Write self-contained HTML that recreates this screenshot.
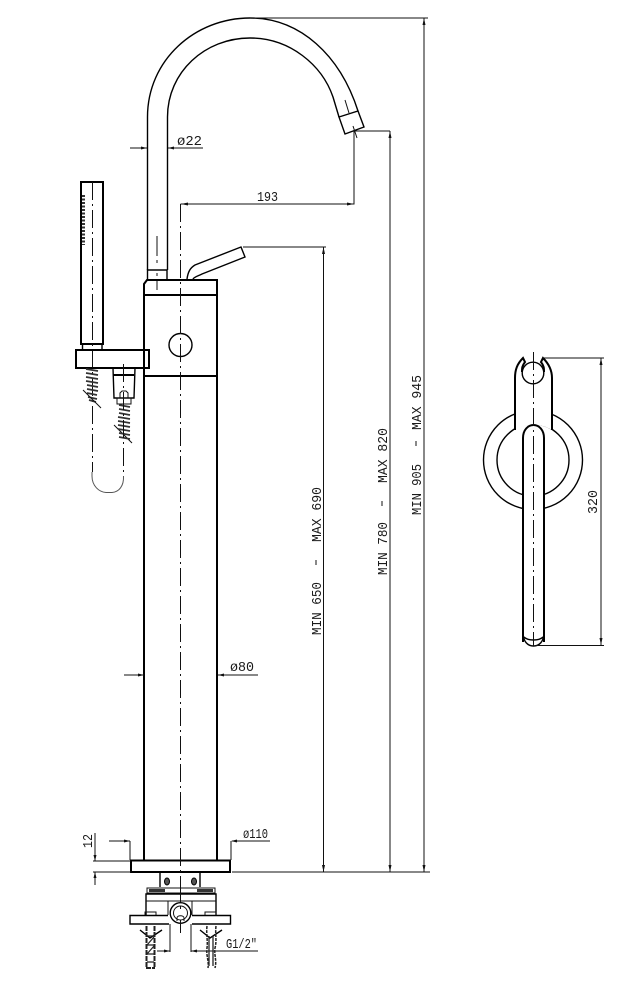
<!DOCTYPE html>
<html><head><meta charset="utf-8"><style>
html,body{margin:0;padding:0;background:#fff}
svg{display:block}
text{font-family:"Liberation Mono","DejaVu Sans Mono",monospace;font-size:14px;fill:#1a1a1a}
.t{stroke:#000;stroke-width:2;fill:none}
.m{stroke:#000;stroke-width:1.4;fill:none}
.d{stroke:#111;stroke-width:1;fill:none}
.c{stroke:#111;stroke-width:1;fill:none;stroke-dasharray:18 4 2 4}
.s{stroke:#333;stroke-width:1.7;fill:none}
.a{fill:#111;stroke:none}
</style></head><body>
<svg width="620" height="981" viewBox="0 0 620 981" xmlns="http://www.w3.org/2000/svg">
<!-- spout -->
<path class="m" d="M147.5 270V117C147.500 60 195 18 250 18C300 18 340 55 358 111"/>
<path class="m" d="M167.500 270V117C167.500 72 205 38 250 38C290 38 322 65 333 97L339 117"/>
<path class="m" d="M339 117L358 111L364 127L345 134Z"/>
<path class="d" d="M345 100L349 113M353 126L357 138"/>
<path class="m" d="M147.500 280V270H167V280"/>
<path class="d" d="M157 236V256M157 260V263M157 273V276M157 280V290"/>
<!-- body -->
<path class="t" d="M144 860V284L147 280H217V860"/>
<path class="t" d="M144 295H217M144 376H217"/>
<path class="t" d="M131 860.500H230V872H131Z"/>
<circle class="m" cx="180.500" cy="345" r="11.500"/>
<path class="c" d="M180.500 204V892"/>
<!-- lever -->
<path class="m" d="M187 279C188 272 190 268 195 265L241 247L245 257L202 274C198 276 194 277 193 279"/>
<!-- hand shower -->
<path class="t" d="M81 344V182H103V344Z"/>
<path class="m" d="M82.500 344V350M102 344V350"/>
<path d="M83.500 195V245" stroke="#333" stroke-width="3" stroke-dasharray="2 1.500" fill="none"/>
<path class="c" d="M92.500 182V472"/>
<rect class="t" x="76" y="350" width="73" height="18"/>
<!-- hose -->
<path class="s" d="M86 369L98 371M86 373L98 375M86 377L98 379M86 381L98 383M87 385L98 387M87 389L98 391M87 393L97 395M88 397L97 399M89 400L96 402"/>
<path class="d" d="M83 390L101 408M114 425L132 443"/>
<path class="m" d="M113 368L114 398H134L135 368"/>
<path class="t" d="M113 375H134"/>
<path class="d" d="M120 398V393L122 391H126L128 393V398"/>
<rect class="d" x="117" y="398" width="14" height="6"/>
<path class="s" d="M119 405L130 407M119 409L130 411M119 413L130 415M118 417L130 419M118 421L130 423M118 425L130 427M118 429L130 431M119 433L130 435M119 437L130 439"/>
<path class="c" d="M123.500 364V476"/>
<path d="M92 472V476C92 486 99 492 106 492.500H112C119 492 124 486 123.500 476" stroke="#555" stroke-width="1" fill="none"/>
<!-- dimensions: Ø22 -->
<path class="d" d="M130 148H147M168 148H203"/>
<path class="a" d="M147 148l-6-1.500v3zM168 148l6-1.500v3z"/>
<text x="177" y="145" textLength="25" lengthAdjust="spacingAndGlyphs">ø22</text>
<!-- 193 -->
<path class="d" d="M180.500 204H354V131H390"/>
<path class="a" d="M181 204l7-1.500v3zM354 204l-7-1.500v3z"/>
<text x="257" y="201" textLength="21" lengthAdjust="spacingAndGlyphs">193</text>
<!-- verticals -->
<path class="d" d="M243 247H326M323.500 247V872"/>
<path class="d" d="M390 131V872"/>
<path class="d" d="M250 18H428M424 18V872"/>
<path class="d" d="M232 872H430"/>
<path class="a" d="M323.500 247l-1.500 7h3zM323.500 872l-1.500-7h3zM390 131l-1.500 7h3zM390 872l-1.500-7h3zM424 18l-1.500 7h3zM424 872l-1.500-7h3z"/>
<g>
<text transform="translate(321 635) rotate(-90)" textLength="53" lengthAdjust="spacingAndGlyphs">MIN 650</text>
<path class="d" d="M316 560V565"/>
<text transform="translate(321 542) rotate(-90)" textLength="55" lengthAdjust="spacingAndGlyphs">MAX 690</text>
<text transform="translate(387 575) rotate(-90)" textLength="53" lengthAdjust="spacingAndGlyphs">MIN 780</text>
<path class="d" d="M382 501V506"/>
<text transform="translate(387 483) rotate(-90)" textLength="55" lengthAdjust="spacingAndGlyphs">MAX 820</text>
<text transform="translate(421 515) rotate(-90)" textLength="51" lengthAdjust="spacingAndGlyphs">MIN 905</text>
<path class="d" d="M416 441V446"/>
<text transform="translate(421 430) rotate(-90)" textLength="55" lengthAdjust="spacingAndGlyphs">MAX 945</text>
</g>
<!-- Ø80 -->
<path class="d" d="M124 675H144M218 675H258"/>
<path class="a" d="M144 675l-6-1.500v3zM218 675l6-1.500v3z"/>
<text x="230" y="671" textLength="24" lengthAdjust="spacingAndGlyphs">ø80</text>
<!-- Ø110 -->
<path class="d" d="M109 841H130M130 841V860M231 841V860M232 841H270"/>
<path class="a" d="M130 841l-6-1.500v3zM231 841l6-1.500v3z"/>
<text x="243" y="838" textLength="25" lengthAdjust="spacingAndGlyphs">ø110</text>
<!-- 12 -->
<path class="d" d="M93 861H131M93 872H131M95 833V861M95 872V885"/>
<path class="a" d="M95 861l-1.500-6h3zM95 872l-1.500 6h3z"/>
<text transform="translate(92 848) rotate(-90)" textLength="14" lengthAdjust="spacingAndGlyphs">12</text>
<!-- bottom fitting -->
<path class="m" d="M160 873V887M200 873V887"/>
<ellipse cx="167" cy="881.500" rx="2.500" ry="3.500" fill="#555" stroke="#000"/>
<ellipse cx="194" cy="881.500" rx="2.500" ry="3.500" fill="#555" stroke="#000"/>
<path class="d" d="M147 888H215V893H147Z"/>
<path d="M149 890.500H165M197 890.500H213" stroke="#333" stroke-width="3" fill="none"/>
<path class="m" d="M146 915V894H216V915"/>
<path class="d" d="M146 901H216M168 901V915M192 901V915"/>
<path class="m" d="M168 915.500H130V924H169M192 924H230.500V915.500H192"/>
<circle cx="180.500" cy="913" r="10.300" fill="#fff" stroke="#000" stroke-width="1.400"/>
<circle class="d" cx="180.500" cy="913" r="7"/>
<path class="d" d="M177 921V918C177 915 184 915 184 918V921"/>
<path class="d" d="M180.500 892V902M180.500 906V909M180.500 920V933"/>
<path class="d" d="M145 915V912H156V915M205 915V912H216V915"/>
<path class="d" d="M170 924V952M191 924V952M157 951H170M191 951H258"/>
<path class="a" d="M170 951l-6-1.500v3zM191 951l6-1.500v3z"/>
<text x="226" y="948" textLength="31" lengthAdjust="spacingAndGlyphs">G1/2"</text>
<!-- anchors -->
<path class="m" d="M140 930L150 938L162 930M200 930L210 938L222 930"/>
<path d="M146.500 926V968M154.500 926V968M146 968H155" stroke="#222" stroke-width="2" stroke-dasharray="5 1" fill="none"/>
<path d="M147 936H154M147 945H154M147 954H154M147 962H154M154 937L147 945M154 946L147 954" stroke="#222" stroke-width="1.200" fill="none"/>
<path d="M207 926C206 935 208 940 207 948C206 956 209 960 208 968M216 926C215 935 217 940 215 948C214 956 217 960 215 968" stroke="#222" stroke-width="1.500" stroke-dasharray="3 1" fill="none"/>
<path d="M209 936V966M213 936V966" stroke="#222" stroke-width="1.300" fill="none"/>
<!-- side view -->
<circle class="m" cx="533" cy="460" r="49.500"/>
<circle class="m" cx="533" cy="460" r="36"/>
<rect x="523" y="456" width="21" height="60" fill="#fff"/>
<path d="M515 430V378H552V430C540 423 527 423 515 430Z" fill="#fff" stroke="none"/>
<path class="t" d="M515 430V378C515 370 517 364 523 358L525 362C522 366 522 368 522 372M544 372C544 368 544 366 541 362L543 358C549 364 552 371 552 378V430"/>
<circle class="m" cx="533" cy="373" r="10.800"/>
<path class="t" d="M523 642V438C523 430 528 425 533.500 425C539 425 544 430 544 438V642"/>
<path class="m" d="M523 632C523 642 528 646 533.500 646C539 646 544 642 544 632M524 637C528 641 539 641 543 637"/>
<path class="c" d="M533.500 352V646"/>
<path class="d" d="M543 358H604M535 645.500H604M601 358V645"/>
<path class="a" d="M601 358l-1.500 7h3zM601 645l-1.500-7h3z"/>
<text transform="translate(597 514) rotate(-90)" textLength="24" lengthAdjust="spacingAndGlyphs">320</text>
</svg>
</body></html>
